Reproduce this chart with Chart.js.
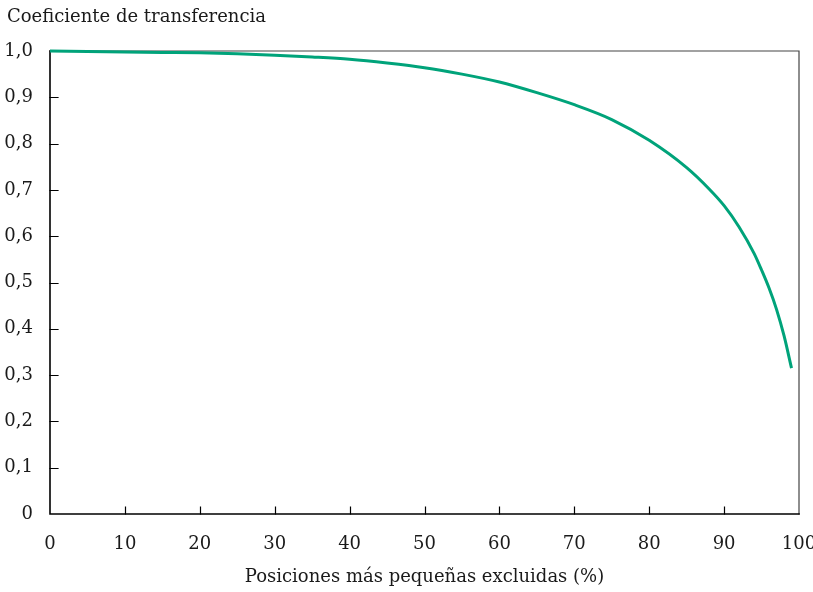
<!DOCTYPE html>
<html>
<head>
<meta charset="utf-8">
<script src="https://cdn.jsdelivr.net/npm/chart.js@4.4.1/dist/chart.umd.min.js"></script>
<style>
  html, body { margin: 0; padding: 0; background: #fff; }
  #wrap { width: 813px; height: 592px; position: relative; }
</style>
</head>
<body>
<div id="wrap"><canvas id="c" width="813" height="592"></canvas></div>
<script>
// Share of positions excluded (smallest first), in percent
const excludedPct = [0, 5, 10, 15, 20, 25, 30, 35, 40, 45, 50, 55, 60, 65, 70, 75, 80, 85, 88, 90, 92, 94, 95, 96, 97, 98, 99];
// Transfer coefficient at each exclusion level
const transferCoef = [1.000, 0.999, 0.998, 0.997, 0.996, 0.994, 0.991, 0.987, 0.982, 0.974, 0.964, 0.950, 0.933, 0.910, 0.884, 0.852, 0.807, 0.748, 0.702, 0.666, 0.620, 0.563, 0.527, 0.488, 0.442, 0.385, 0.315];
// Axis tick labels
const xTickLabels = ['0', '10', '20', '30', '40', '50', '60', '70', '80', '90', '100'];
const yTickLabels = ['0', '0,1', '0,2', '0,3', '0,4', '0,5', '0,6', '0,7', '0,8', '0,9', '1,0'];

const FONT = '"DejaVu Serif", "Liberation Serif", serif';
const FSIZE = 18;
const TEXT = '#1a1a1a';

// Frame around the plot area with inward-pointing tick marks
const framePlugin = {
  id: 'frame',
  beforeDatasetsDraw(chart) {
    const { ctx, chartArea: a, scales } = chart;
    ctx.save();
    ctx.lineCap = 'square';
    // top and right edges
    ctx.strokeStyle = '#444';
    ctx.lineWidth = 1.2;
    ctx.beginPath();
    ctx.moveTo(a.left, a.top); ctx.lineTo(a.right, a.top); ctx.lineTo(a.right, a.bottom);
    ctx.stroke();
    // axes
    ctx.strokeStyle = '#000';
    ctx.lineWidth = 1.6;
    ctx.beginPath();
    ctx.moveTo(a.left, a.top); ctx.lineTo(a.left, a.bottom); ctx.lineTo(a.right, a.bottom);
    ctx.stroke();
    // tick marks
    ctx.lineWidth = 1.2;
    ctx.beginPath();
    scales.x.ticks.forEach(t => {
      const px = Math.round(scales.x.getPixelForValue(t.value)) + 0.5;
      if (t.value > 0 && t.value < 100) { ctx.moveTo(px, a.bottom); ctx.lineTo(px, a.bottom - 7); }
    });
    scales.y.ticks.forEach(t => {
      const py = Math.round(scales.y.getPixelForValue(t.value)) + 0.5;
      if (t.value > 0.001 && t.value < 0.999) { ctx.moveTo(a.left, py); ctx.lineTo(a.left + 8, py); }
    });
    ctx.stroke();
    ctx.restore();
  }
};

// Caption above the value axis
const captionPlugin = {
  id: 'caption',
  afterDraw(chart) {
    const { ctx } = chart;
    ctx.save();
    ctx.font = FSIZE + 'px ' + FONT;
    ctx.fillStyle = TEXT;
    ctx.textBaseline = 'alphabetic';
    ctx.fillText('Coeficiente de transferencia', 7, 22);
    ctx.restore();
  }
};

new Chart(document.getElementById('c'), {
  type: 'line',
  data: {
    datasets: [{
      data: excludedPct.map((x, i) => ({ x, y: transferCoef[i] })),
      borderColor: 'rgb(0,163,122)',
      borderWidth: 3,
      pointRadius: 0,
      cubicInterpolationMode: 'monotone',
      fill: false,
      clip: 6
    }]
  },
  options: {
    responsive: false,
    animation: false,
    devicePixelRatio: 1,
    layout: { padding: { top: 51, right: 14, left: 0, bottom: 0 } },
    plugins: { legend: { display: false }, tooltip: { enabled: false }, title: { display: false } },
    scales: {
      x: {
        type: 'linear', min: 0, max: 100,
        border: { display: false },
        grid: { display: false, drawTicks: false },
        ticks: {
          stepSize: 10, padding: 20, color: TEXT, maxRotation: 0,
          font: { family: FONT, size: FSIZE },
          callback: (v) => xTickLabels[Math.round(v / 10)]
        },
        title: {
          display: true, text: 'Posiciones más pequeñas excluidas (%)',
          color: TEXT, font: { family: FONT, size: FSIZE }, padding: { top: 0, bottom: 4 }
        },
        afterFit(s) { s.height = 78; s.paddingLeft = 0; s.paddingRight = 0; }
      },
      y: {
        type: 'linear', min: 0, max: 1,
        border: { display: false },
        grid: { display: false, drawTicks: false },
        ticks: {
          stepSize: 0.1, padding: 17, color: TEXT,
          font: { family: FONT, size: FSIZE },
          callback: (v) => yTickLabels[Math.round(v * 10)]
        },
        afterFit(s) { s.width = 50; s.paddingTop = 0; s.paddingBottom = 0; }
      }
    }
  },
  plugins: [framePlugin, captionPlugin]
});
</script>
</body>
</html>
